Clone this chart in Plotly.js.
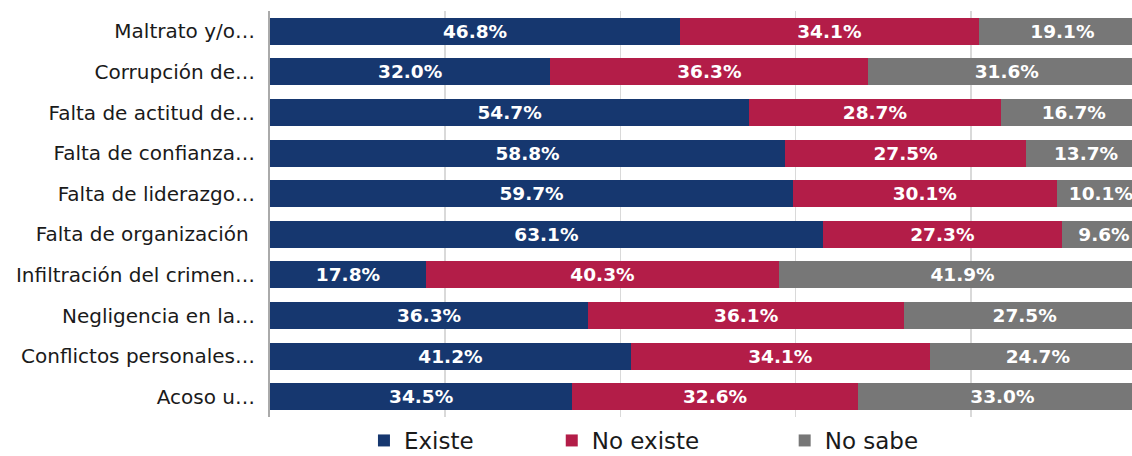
<!DOCTYPE html>
<html><head><meta charset="utf-8">
<script src="https://cdn.plot.ly/plotly-3.0.1.min.js"></script>
<style>html,body{margin:0;padding:0;background:#fff}#chart{width:1132px;height:456px}</style>
</head><body><div id="chart"></div>
<script>
const categories = ["Maltrato y/o…","Corrupción de…","Falta de actitud de…","Falta de confianza…","Falta de liderazgo…","Falta de organización ","Infiltración del crimen…","Negligencia en la…","Conflictos personales…","Acoso u…"];
const existe   = [46.8, 32.0, 54.7, 58.8, 59.7, 63.1, 17.8, 36.3, 41.2, 34.5];
const noExiste = [34.1, 36.3, 28.7, 27.5, 30.1, 27.3, 40.3, 36.1, 34.1, 32.6];
const noSabe   = [19.1, 31.6, 16.7, 13.7, 10.1, 9.6, 41.9, 27.5, 24.7, 33.0];
const seriesNames = ["Existe","No existe","No sabe"];
const colors = ["#16376f","#b31d48","#777777"];
const vals = [existe, noExiste, noSabe];
const pads = ['\u00a0'.repeat(10), '\u00a0'.repeat(11), ''];
const traces = vals.map((v,i)=>({
  type:'bar', orientation:'h', y:categories, x:v, name:seriesNames[i] + pads[i],
  marker:{color:colors[i]},
  text:v.map(n=>n.toFixed(1)+'%'), textposition:'inside', insidetextanchor:'middle',
  textfont:{family:'DejaVu Sans', size:18.5, color:'#ffffff', weight:700},
  hoverinfo:'none'
}));
const layout = {
  barmode:'stack', bargap:0.335,
  margin:{l:270,r:0,t:11,b:39},
  paper_bgcolor:'#fff', plot_bgcolor:'#fff',
  font:{family:'DejaVu Sans', color:'#1a1a1a'},
  xaxis:{range:[0,98.4], showticklabels:false, showgrid:true, gridcolor:'#d9d9d9', gridwidth:1.5, dtick:20, zeroline:false, fixedrange:true, automargin:false},
  yaxis:{autorange:'reversed', tickfont:{size:20, color:'#1a1a1a'}, showline:true, linecolor:'#aaaaaa', linewidth:2, ticks:'', ticklabelstandoff:9, automargin:false},
  showlegend:true,
  legend:{orientation:'h', x:0.109, xanchor:'left', yref:'container', y:0.034, yanchor:'middle', font:{size:23, color:'#1a1a1a'}, traceorder:'normal', borderwidth:0},
  uniformtext:{mode:'show', minsize:10}
};
Plotly.newPlot('chart', traces, layout, {displayModeBar:false, staticPlot:true});
</script></body></html>
